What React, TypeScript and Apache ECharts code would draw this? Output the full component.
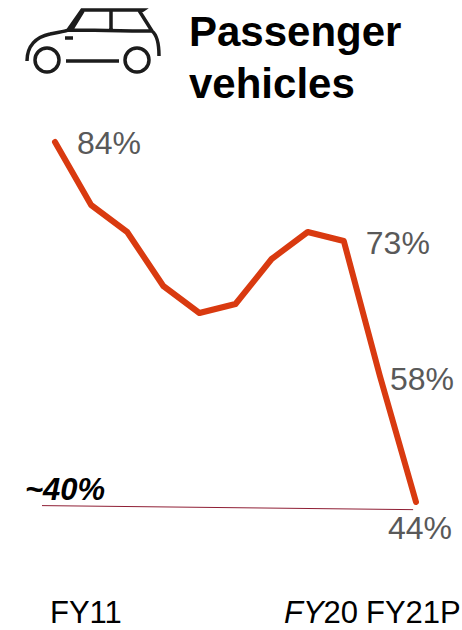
import React, { useEffect, useRef } from "react";
import * as echarts from "echarts";

const years = [11, 12, 13, 14, 15, 16, 17, 18, 19, 20, 21];
const shareValues = [84, 77, 74, 68, 65, 66, 71, 74, 73, 58, 44];
const valueLabels: Record<number, string> = { 0: "84%", 8: "73%", 9: "58%", 10: "44%" };
const labelOffsets: Record<number, number[]> = { 0: [54, 1], 8: [54, 2], 9: [42, 3], 10: [4, 26] };
const thresholdPoints = [[10.64, 43.6], [20.92, 43.15]];
const thresholdLabel = "~40%";
const titleLines = ["Passenger", "vehicles"];

const carPath =
  "M27 61 C27 46 36 37 50 34 C58 32 64 32 68 30 L82 10 L143 10 L140 12 L152 31 C157 35 159 44 159 56 " +
  "M68 30 C95 30 120 31 152 31 M83 11 L72 29 M111 11 L111 29 M65 38 L73 38 M66 61 L119 61 " +
  "M59 60 A12 12 0 1 1 35 60 A12 12 0 1 1 59 60 M149 60 A12 12 0 1 1 125 60 A12 12 0 1 1 149 60";
echarts.graphic.registerShape("car", echarts.graphic.extendPath(carPath, {}));

const FONT = "'Liberation Sans', Arial, sans-serif";

export default function App() {
  const ref = useRef<HTMLDivElement>(null);
  useEffect(() => {
    document.body.style.margin = "0";
    const chart = echarts.init(ref.current!, null, { renderer: "svg" });
    chart.setOption({
      animation: false,
      backgroundColor: "#ffffff",
      grid: { left: 18.9, top: 88, width: 433.2, height: 540 },
      xAxis: { type: "value", min: 10, max: 22, show: false },
      yAxis: { type: "value", min: 30, max: 90, show: false },
      series: [
        {
          type: "line",
          data: thresholdPoints,
          symbol: "none",
          silent: true,
          lineStyle: { color: "#8f1f35", width: 1 },
          label: { show: false },
        },
        {
          type: "line",
          data: years.map((y, i) => ({
            value: [y, shareValues[i]],
            label: valueLabels[i]
              ? { show: true, formatter: valueLabels[i], offset: labelOffsets[i] }
              : { show: false },
          })),
          symbol: "circle",
          symbolSize: 0,
          showSymbol: true,
          lineStyle: { color: "#d93a10", width: 6, cap: "round", join: "round" },
          itemStyle: { color: "#d93a10" },
          label: {
            position: "inside",
            align: "center",
            verticalAlign: "middle",
            color: "#595959",
            fontFamily: FONT,
            fontSize: 32,
          },
          z: 3,
        },
      ],
      graphic: [
        { type: "car", x: 0, y: 0, style: { fill: "none", stroke: "#1c1c1c", lineWidth: 3.5 } },
        ...titleLines.map((t, i) => ({
          type: "text",
          x: 189,
          y: 31 + i * 52,
          style: { text: t, font: `bold 42px ${FONT}`, fill: "#000000", textVerticalAlign: "middle" },
        })),
        {
          type: "text",
          x: 25,
          y: 489,
          style: { text: thresholdLabel, font: `italic bold 31px ${FONT}`, fill: "#000000", textVerticalAlign: "middle" },
        },
        {
          type: "text",
          x: 50,
          y: 612,
          style: { text: "FY11", font: `31px ${FONT}`, fill: "#000000", textVerticalAlign: "middle" },
        },
        {
          type: "text",
          x: 284,
          y: 612,
          style: {
            rich: { i: { font: `italic 31px ${FONT}`, fill: "#000000" }, n: { font: `31px ${FONT}`, fill: "#000000" } },
            text: "{i|FY}{n|20}",
            textVerticalAlign: "middle",
          },
        },
        {
          type: "text",
          x: 366,
          y: 612,
          style: { text: "FY21P", font: `31px ${FONT}`, fill: "#000000", textVerticalAlign: "middle" },
        },
      ],
    });
    return () => chart.dispose();
  }, []);
  return <div ref={ref} style={{ width: 462, height: 630 }} />;
}
